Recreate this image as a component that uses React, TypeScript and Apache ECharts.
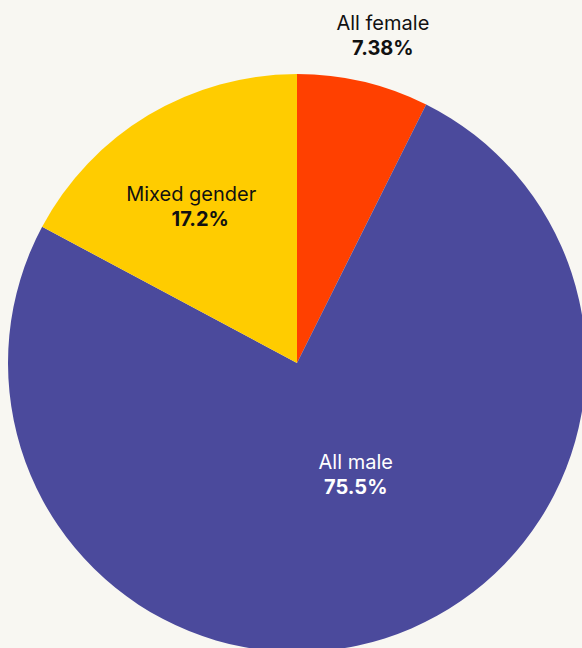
import React, { useEffect, useRef } from "react";
import * as echarts from "echarts";

const categories = ["All female", "All male", "Mixed gender"];
const values = [7.38, 75.5, 17.2];
const valueLabels = ["7.38%", "75.5%", "17.2%"];
const colors = ["#ff4000", "#4b4a9c", "#ffcc00"];
const labelColors = ["#111111", "#ffffff", "#111111"];
const labelOffsets: [number, number][] = [
  [52, -184],
  [14, -29],
  [-30, -30],
];

export default function App() {
  const ref = useRef<HTMLDivElement>(null);
  useEffect(() => {
    document.body.style.margin = "0";
    document.body.style.background = "#f8f7f2";
    const chart = echarts.init(ref.current!, undefined, { renderer: "svg" });
    const data = categories.map((name, i) => ({
      name,
      value: values[i],
      itemStyle: { color: colors[i] },
      label: {
        color: labelColors[i],
        offset: labelOffsets[i],
        formatter:
          i === 2
            ? `{n|${name}}\n{p2|${valueLabels[i]}}`
            : `{n|${name}}\n{p|${valueLabels[i]}}`,
      },
    }));
    chart.setOption({
      animation: false,
      backgroundColor: "#f8f7f2",
      series: [
        {
          type: "pie",
          center: [297, 363],
          radius: 289,
          startAngle: 90,
          clockwise: true,
          silent: true,
          label: {
            show: true,
            position: "inside",
            fontFamily: "Inter",
            fontSize: 20,
            lineHeight: 25,
            rich: {
              n: { fontFamily: "Inter", fontSize: 20, lineHeight: 25, fontWeight: "normal" },
              p: { fontFamily: "Inter", fontSize: 20, lineHeight: 25, fontWeight: "bold" },
              p2: {
                fontFamily: "Inter",
                fontSize: 20,
                lineHeight: 25,
                fontWeight: "bold",
                padding: [0, 0, 0, 18],
              },
            },
          },
          labelLine: { show: false },
          emphasis: { disabled: true },
          data,
        },
      ],
    });
    return () => chart.dispose();
  }, []);
  return <div ref={ref} style={{ width: 582, height: 648 }} />;
}
